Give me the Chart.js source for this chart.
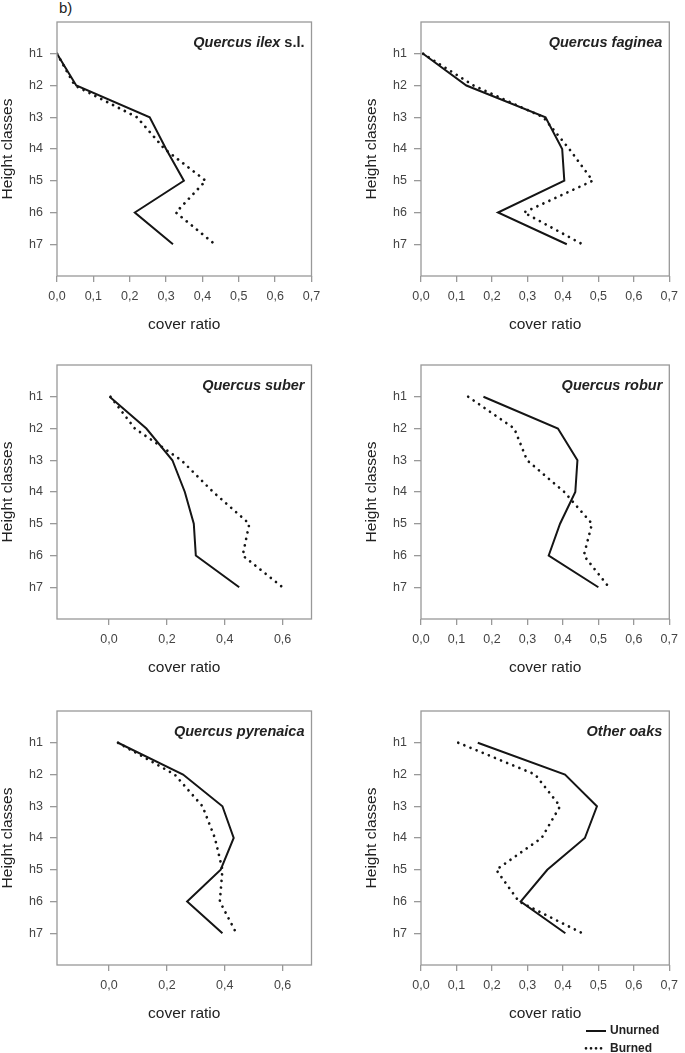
<!DOCTYPE html>
<html><head><meta charset="utf-8">
<script src="https://cdn.jsdelivr.net/npm/chart.js@4.4.1/dist/chart.umd.min.js"></script>
<style>
html,body{margin:0;padding:0;background:#fff;width:685px;height:1053px;overflow:hidden;position:relative;font-family:"Liberation Sans",Arial,sans-serif}
canvas{position:absolute}
#lbl{position:absolute;left:59px;top:1px;font-size:15px;line-height:14px;color:#222}
</style></head><body>
<div id="lbl">b)</div>
<canvas id="c1"></canvas><canvas id="c2"></canvas><canvas id="c3"></canvas>
<canvas id="c4"></canvas><canvas id="c5"></canvas><canvas id="c6"></canvas>
<script>
// ---- data ----
const heightClasses = ['h1','h2','h3','h4','h5','h6','h7'];
const seriesNames = ['Unurned','Burned'];
const xTicksFull = [0,0.1,0.2,0.3,0.4,0.5,0.6,0.7];
const xTicksWide = [0,0.2,0.4,0.6];
const titlesItalic = ['Quercus ilex','Quercus faginea','Quercus suber','Quercus robur','Quercus pyrenaica','Other oaks'];
const titlesPlain  = [' s.l.','','','','',''];
const ilexUnburned      = [0.000,0.053,0.255,0.300,0.349,0.214,0.319];
const ilexBurned        = [0.000,0.049,0.220,0.296,0.409,0.327,0.434];
const fagineaUnburned   = [0.006,0.128,0.351,0.398,0.404,0.217,0.411];
const fagineaBurned     = [0.006,0.148,0.345,0.418,0.484,0.290,0.455];
const suberUnburned     = [0.002,0.129,0.219,0.262,0.293,0.300,0.450];
const suberBurned       = [0.005,0.089,0.250,0.360,0.485,0.462,0.600];
const roburUnburned     = [0.176,0.386,0.441,0.435,0.392,0.360,0.500];
const roburBurned       = [0.133,0.263,0.299,0.404,0.482,0.459,0.530];
const pyrenaicaUnburned = [0.031,0.256,0.392,0.431,0.386,0.270,0.392];
const pyrenaicaBurned   = [0.031,0.227,0.323,0.366,0.392,0.383,0.440];
const otherUnburned     = [0.160,0.406,0.496,0.462,0.356,0.281,0.407];
const otherBurned       = [0.105,0.322,0.392,0.340,0.212,0.276,0.455];

const FAM = '"Liberation Sans", Arial, sans-serif';

const boxPlugin = {
  id:'boxDeco',
  afterDraw(chart, args, opts){
    const {ctx, chartArea:a} = chart;
    ctx.save();
    ctx.strokeStyle = '#999'; ctx.lineWidth = 1.3;
    ctx.strokeRect(a.left, a.top, a.right-a.left, a.bottom-a.top);
    // panel title
    ctx.fillStyle = '#222'; ctx.textBaseline = 'middle';
    const y = a.top + 21, xr = a.right - 7;
    ctx.font = 'bold 14.5px ' + FAM;
    const wr = opts.plain ? ctx.measureText(opts.plain).width : 0;
    ctx.textAlign = 'right';
    if (opts.plain) ctx.fillText(opts.plain, xr, y);
    ctx.font = 'italic bold 14.5px ' + FAM;
    ctx.fillText(opts.italic, xr - wr, y);
    // legend
    if (opts.legend) {
      const ds = chart.data.datasets;
      const L = opts.legend;
      ds.forEach((d, i) => {
        const ly = L.y + i * 17.3;
        ctx.strokeStyle = d.borderColor; ctx.lineWidth = d.borderWidth;
        ctx.lineCap = d.borderCapStyle || 'butt';
        ctx.setLineDash(d.borderDash ? [0.01, 5] : []);
        ctx.beginPath(); ctx.moveTo(L.x, ly); ctx.lineTo(L.x + 20, ly); ctx.stroke();
        ctx.setLineDash([]);
        ctx.font = 'bold 12px ' + FAM; ctx.textAlign = 'left'; ctx.fillStyle = '#222';
        ctx.fillText(d.label, L.x + 24, ly);
      });
    }
    ctx.restore();
  }
};

function makeChart(p){
  const cv = document.getElementById(p.id);
  cv.width = p.w; cv.height = p.h;
  cv.style.left = p.x + 'px'; cv.style.top = p.y + 'px';
  const mk = arr => arr.map((v, i) => ({x: v, y: i + 1}));
  new Chart(cv, {
    type: 'scatter',
    data: { datasets: [
      {label: seriesNames[0], data: mk(p.unb), showLine: true, borderColor: '#151515', borderWidth: 2,
       pointRadius: 0, fill: false, tension: 0},
      {label: seriesNames[1], data: mk(p.bur), showLine: true, borderColor: '#151515', borderWidth: 2.7,
       borderDash: [0.01, 6.6], borderCapStyle: 'round', pointRadius: 0, fill: false, tension: 0}
    ]},
    options: {
      responsive: false, animation: false, devicePixelRatio: 1,
      layout: {padding: {top: 22, left: 0, right: p.padR, bottom: p.padB}},
      plugins: {legend: {display: false}, tooltip: {enabled: false},
        boxDeco: {italic: p.italic, plain: p.plain, legend: p.legend}},
      scales: {
        x: {type: 'linear', min: p.xMin, max: p.xMax,
          afterBuildTicks: s => { s.ticks = p.xTicks.map(v => ({value: v})); },
          afterFit: s => { s.height = 58; },
          ticks: {callback: v => Number(v).toFixed(1).replace('.', ','), font: {size: 12.5, family: FAM},
                  color: '#444', padding: 7, autoSkip: false, maxRotation: 0},
          grid: {drawOnChartArea: false, drawTicks: true, tickLength: 6, color: '#999', lineWidth: 1.3},
          border: {display: false},
          title: {display: true, text: 'cover ratio', font: {size: 15.5, family: FAM}, color: '#222', padding: 0}},
        y: {type: 'linear', min: 0, max: 8, reverse: true,
          afterBuildTicks: s => { s.ticks = heightClasses.map((_, i) => ({value: i + 1})); },
          afterFit: s => { s.width = 57; },
          ticks: {callback: v => heightClasses[Math.round(v) - 1], font: {size: 12.5, family: FAM},
                  color: '#444', padding: 7, autoSkip: false},
          grid: {drawOnChartArea: false, drawTicks: true, tickLength: 7, color: '#999', lineWidth: 1.3},
          border: {display: false},
          title: {display: true, text: 'Height classes', font: {size: 15.5, family: FAM, lineHeight: 1}, color: '#222', padding: 0}}
      }
    },
    plugins: [boxPlugin]
  });
}

const L = {x: 0, w: 330, padR: 18.5}, R = {x: 364, w: 321, padR: 9};
const rows = [0, 343, 689];
const panels = [
  {id:'c1', col:L, row:0, italic:titlesItalic[0], plain:titlesPlain[0], unb:ilexUnburned, bur:ilexBurned, xMin:0, xMax:0.7, xTicks:xTicksFull},
  {id:'c2', col:R, row:0, italic:titlesItalic[1], plain:titlesPlain[1], unb:fagineaUnburned, bur:fagineaBurned, xMin:0, xMax:0.7, xTicks:xTicksFull},
  {id:'c3', col:L, row:1, italic:titlesItalic[2], plain:titlesPlain[2], unb:suberUnburned, bur:suberBurned, xMin:-0.18, xMax:0.7, xTicks:xTicksWide},
  {id:'c4', col:R, row:1, italic:titlesItalic[3], plain:titlesPlain[3], unb:roburUnburned, bur:roburBurned, xMin:0, xMax:0.7, xTicks:xTicksFull},
  {id:'c5', col:L, row:2, italic:titlesItalic[4], plain:titlesPlain[4], unb:pyrenaicaUnburned, bur:pyrenaicaBurned, xMin:-0.18, xMax:0.7, xTicks:xTicksWide},
  {id:'c6', col:R, row:2, italic:titlesItalic[5], plain:titlesPlain[5], unb:otherUnburned, bur:otherBurned, xMin:0, xMax:0.7, xTicks:xTicksFull, extra:true}
];
panels.forEach(p => {
  makeChart(Object.assign({}, p, {
    x: p.col.x, w: p.col.w, padR: p.col.padR, y: rows[p.row],
    h: p.extra ? 364 : 334, padB: p.extra ? 30 : 0,
    legend: p.extra ? {x: 222, y: 342} : null
  }));
});
</script>
</body></html>
